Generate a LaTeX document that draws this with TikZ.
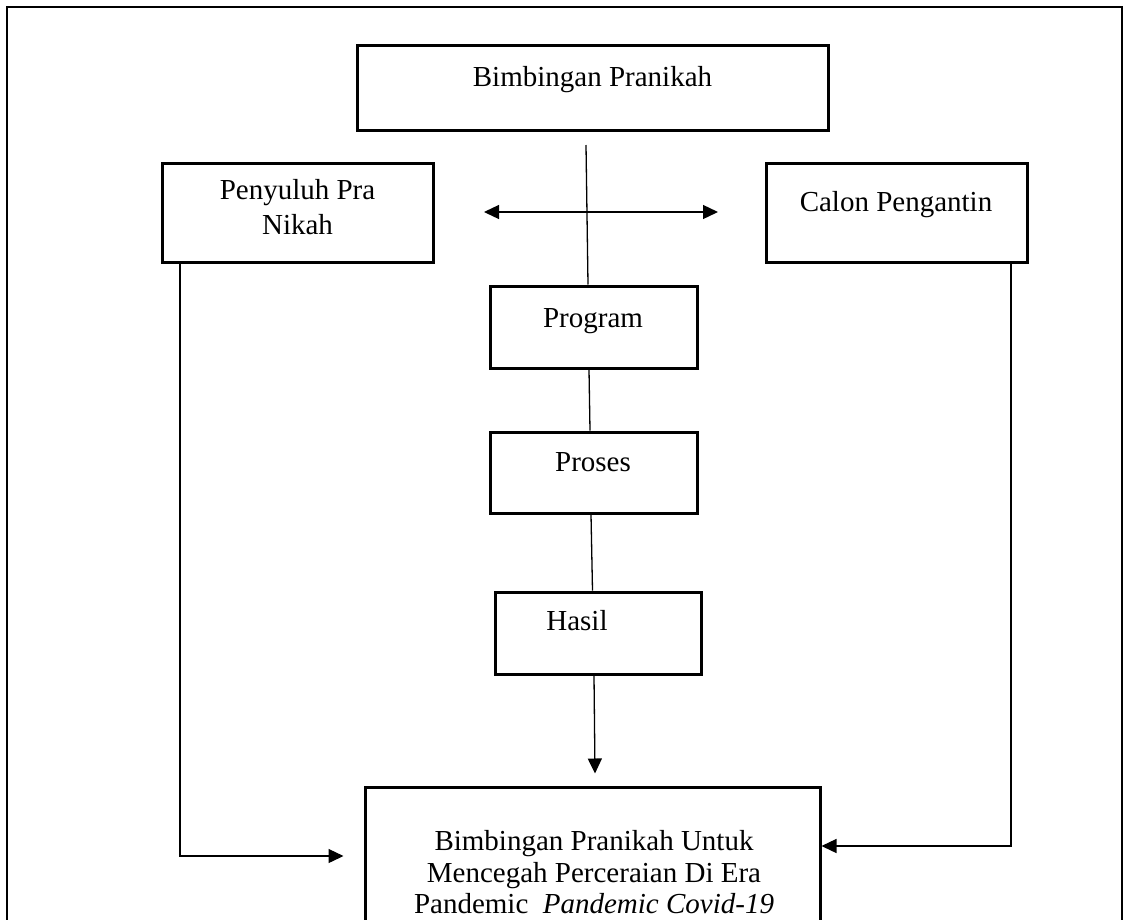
\documentclass[tikz,border=0pt]{standalone}
\usepackage{fontspec}
\setmainfont{Liberation Serif}
\usetikzlibrary{arrows.meta}
\begin{document}
\begin{tikzpicture}[x=1pt,y=-1pt,
  box/.style={draw, line width=3pt, inner sep=0pt},
  txt/.style={inner sep=0pt, font=\fontsize{29}{35}\selectfont, align=center},
  conn/.style={line width=1.3pt},
  arr/.style={conn, -{Triangle[length=15pt,width=14pt]}},
  dbl/.style={conn, {Triangle[length=15pt,width=14pt]}-{Triangle[length=15pt,width=14pt]}}
]
\clip (0,0) rectangle (1124,919);
\fill[white] (0,0) rectangle (1124,919);
% outer frame
\draw[line width=2.8pt] (7,930) -- (7,7) -- (1122,7) -- (1122,930);

% boxes
\node[box, minimum width=471pt, minimum height=85pt] (top) at (592.5,87.5) {};
\node[box, minimum width=271pt, minimum height=99pt] (peny) at (297.5,212.5) {};
\node[box, minimum width=261pt, minimum height=99pt] (calon) at (896.5,212.5) {};
\node[box, minimum width=207pt, minimum height=82pt] (prog) at (593.5,327) {};
\node[box, minimum width=207pt, minimum height=81pt] (pros) at (593.5,472.5) {};
\node[box, minimum width=206pt, minimum height=82pt] (hasil) at (598,633) {};
\node[box, minimum width=455pt, minimum height=173pt] (bot) at (592.5,873.5) {};

% texts
\node[txt, anchor=base] (ttop) at (592.5,86) {Bimbingan Pranikah};
\node[txt, anchor=north] (tpeny) at (297.5,179.2) {Penyuluh Pra\\Nikah};
\node[txt, anchor=base] (tcalon) at (896,211) {Calon Pengantin};
\node[txt, anchor=base] (tprog) at (593,327) {Program};
\node[txt, anchor=base] (tpros) at (593,471) {Proses};
\node[txt, anchor=base] (thasil) at (577,630) {Hasil};
\node[txt, anchor=north, font=\fontsize{29}{31.5}\selectfont] (tbot) at (594,830.5)
  {Bimbingan Pranikah Untuk\\Mencegah Perceraian Di Era\\Pandemic\ \ \textit{Pandemic Covid-19}};

% connectors
\coordinate (vtop) at (586,145);
\coordinate (dl) at (484,212);
\coordinate (dr) at (718,212);
\coordinate (lc) at (180,856);
\coordinate (rc) at (1011,846);

\draw[conn] (vtop) -- ([xshift=-5.5pt]prog.north);
\draw[dbl] (dl) -- (dr);
\draw[conn] ([xshift=-4.5pt]prog.south) -- ([xshift=-3.5pt]pros.north);
\draw[conn] ([xshift=-2.5pt]pros.south) -- ([xshift=-5.5pt]hasil.north);
\draw[arr] ([xshift=-4pt]hasil.south) -- ([xshift=2.5pt,yshift=12pt]bot.north);
\draw[arr, shorten >=20pt] (peny.south -| lc) |- (bot.west |- lc);
\draw[arr] (calon.south -| rc) |- (bot.east |- rc);
\end{tikzpicture}
\end{document}
